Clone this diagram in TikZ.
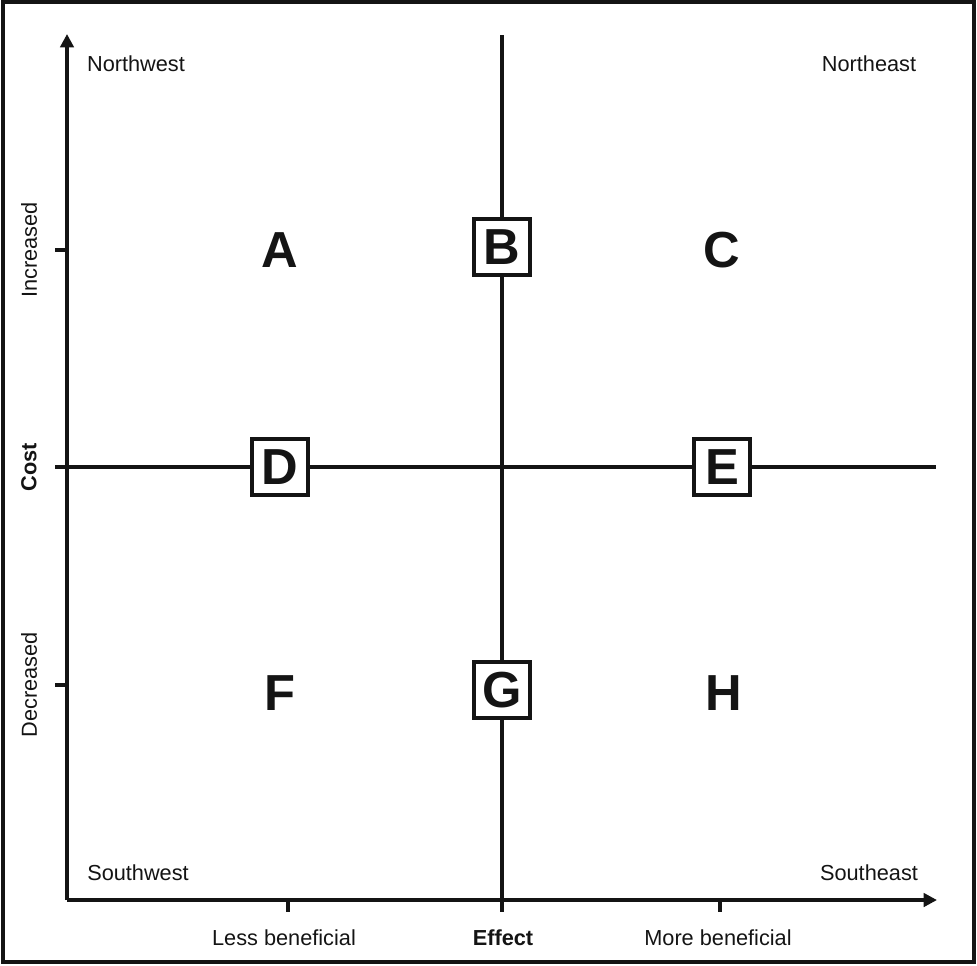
\documentclass[tikz,border=0pt]{standalone}
\usepackage{fontspec}
\setmainfont{Liberation Sans}
\usetikzlibrary{arrows.meta,positioning}
\definecolor{tinta}{HTML}{141414}

\begin{document}
\begin{tikzpicture}[x=0.75pt, y=-0.75pt, >={Triangle[length=10pt,width=10pt]},
      eje/.style={line width=2.6pt, tinta},
      letra/.style={font=\fontsize{38}{38}\selectfont\bfseries, text=tinta, inner sep=0pt},
      caja/.style={letra, draw=tinta, line width=2.6pt, fill=white, minimum size=42pt},
      rotulo/.style={font=\fontsize{16.3}{17}\selectfont, text=tinta, inner sep=0pt}]
    \useasboundingbox (0,0) rectangle (977,965);
    \draw[line width=3pt, tinta] (3,2) rectangle (974,962);
    % ejes
    \coordinate (O) at (67,900);
    \coordinate (ytop) at (67,34);
    \coordinate (xend) at (937,900);
    \coordinate (vtop) at (502,35);
    \coordinate (vbot) at (502,912);
    \coordinate (hizq) at (55,467);
    \coordinate (hder) at (936,467);
    % casillas
    \node[letra] (A) at (280,250) {A};
    \node[caja] (B) at (502,247) {B};
    \node[letra] (C) at (722,250) {C};
    \node[caja] (D) at (280,467) {D};
    \node[caja] (E) at (722,467) {E};
    \node[letra] (F) at (280,693) {F};
    \node[caja] (G) at (502,690) {G};
    \node[letra] (H) at (724,693) {H};
    \draw[eje, ->] (O) -- (ytop);
    \draw[eje, ->] (O) -- (xend);
    \draw[eje] (vtop) -- (B);
    \draw[eje] (B) -- (G);
    \draw[eje] (G) -- (vbot);
    \draw[eje] (hizq) -- (D);
    \draw[eje] (D) -- (E);
    \draw[eje] (E) -- (hder);
    % marcas
    \draw[eje] (55,250) -- (67,250);
    \draw[eje] (55,685) -- (67,685);
    \draw[eje] (288,900) -- (288,912);
    \draw[eje] (720,900) -- (720,912);
    % textos
    \node[rotulo] (nw) at (136,64) {Northwest};
    \node[rotulo] (ne) at (869,64) {Northeast};
    \node[rotulo] (sw) at (138,873) {Southwest};
    \node[rotulo] (se) at (869,873) {Southeast};
    \node[rotulo] (menos) at (284,938) {Less beneficial};
    \node[rotulo, font=\fontsize{16.3}{17}\selectfont\bfseries] (efecto) at (503,938) {Effect};
    \node[rotulo] (mas) at (718,938) {More beneficial};
    \node[rotulo, rotate=90] (sube) at (29,250) {Increased};
    \node[rotulo, rotate=90, font=\fontsize{16.3}{17}\selectfont\bfseries] (coste) at (29,467) {Cost};
    \node[rotulo, rotate=90] (baja) at (29,685) {Decreased};
  \end{tikzpicture}
\end{document}
